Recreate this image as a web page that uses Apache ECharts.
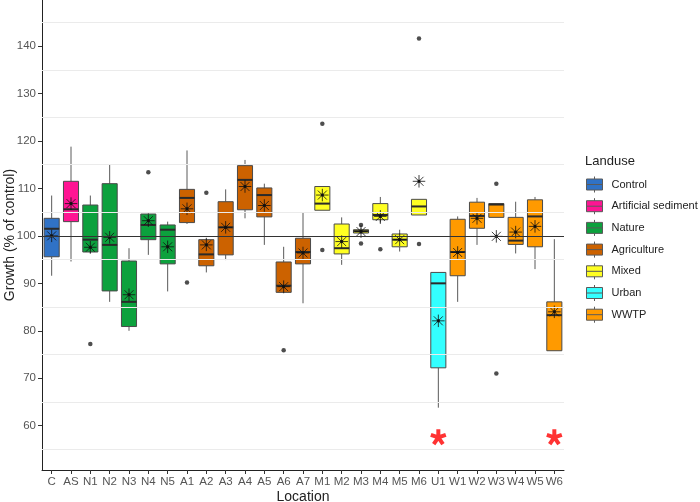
<!DOCTYPE html>
<html>
<head>
<meta charset="utf-8">
<script src="https://cdn.jsdelivr.net/npm/echarts@6/dist/echarts.min.js"></script>
<style>html,body{margin:0;padding:0;background:#fff}#c{width:700px;height:502px}</style>
</head>
<body>
<div id="c"></div>
<script>
const categories = ['C','AS','N1','N2','N3','N4','N5','A1','A2','A3','A4','A5','A6','A7','M1','M2','M3','M4','M5','M6','U1','W1','W2','W3','W4','W5','W6'];
const landuse = ['Control','Artificial sediment','Nature','Nature','Nature','Nature','Nature','Agriculture','Agriculture','Agriculture','Agriculture','Agriculture','Agriculture','Agriculture','Mixed','Mixed','Mixed','Mixed','Mixed','Mixed','Urban','WWTP','WWTP','WWTP','WWTP','WWTP','WWTP'];
const groups = ['Control','Artificial sediment','Nature','Agriculture','Mixed','Urban','WWTP'];
const whiskerLow  = [91.6, 94.6, 96.3, 86.1, 80.0, 96.0, 88.3, 102.5, 92.3, 94.9, 103.7, 98.1, 87.9, 85.8, 105.4, 93.9, 100.4, 102.5, 96.7, 104.4, 63.8, 86.1, 98.1, 103.9, 96.3, 93.0, 75.8];
const q1          = [95.6, 103.0, 96.6, 88.4, 80.9, 99.2, 94.1, 102.8, 93.7, 96.0, 105.5, 104.0, 88.1, 94.1, 105.4, 96.2, 100.6, 103.4, 97.7, 104.4, 72.2, 91.6, 101.6, 103.9, 98.2, 97.7, 75.8];
const median      = [101.5, 105.6, 99.2, 98.1, 86.1, 102.3, 101.3, 108.0, 96.1, 101.8, 111.8, 108.6, 89.5, 96.6, 106.8, 97.4, 101.0, 104.4, 99.2, 106.2, 90.0, 96.6, 104.2, 106.6, 99.0, 104.1, 83.3];
const q3          = [103.7, 111.5, 106.5, 111.0, 94.7, 104.6, 102.3, 109.8, 99.2, 107.2, 114.8, 110.1, 94.5, 99.5, 110.4, 102.5, 101.3, 106.8, 100.4, 107.7, 92.3, 103.5, 107.1, 106.8, 103.9, 107.6, 86.1];
const whiskerHigh = [108.5, 118.8, 108.5, 115.1, 97.4, 104.8, 103.0, 118.0, 99.6, 109.8, 116.0, 111.0, 97.7, 105.0, 110.4, 103.9, 101.6, 108.2, 101.3, 107.7, 92.3, 104.1, 108.0, 106.8, 107.2, 108.2, 99.3];
const means       = [100.0, 106.8, 97.6, 99.7, 87.6, 103.2, 97.7, 105.7, 98.1, 101.8, 110.4, 106.4, 89.3, 96.4, 108.6, 98.8, 100.9, 104.1, 99.2, 111.5, 82.1, 96.5, 103.7, 99.9, 100.8, 102.0, 84.0];
const outlierCats   = ['N1','N4','A1','A2','A6','M1','M1','M3','M3','M4','M6','M6','W3','W3'];
const outlierValues = [77.2, 113.4, 90.2, 109.1, 75.9, 123.6, 97.0, 102.3, 98.4, 97.2, 141.6, 98.3, 111.0, 71.0];
const sigCats = ['U1','W6'];
const sigValues = [57.7, 57.7];
const yTicks = [60,70,80,90,100,110,120,130,140];
const yMinorGrid = [55,65,75,85,95,105,115,125,135,145];
const refLine = 100;

const groupColors = {
  'Control':'#3072C6','Artificial sediment':'#FF1493','Nature':'#0CA13D','Agriculture':'#CC6200',
  'Mixed':'#FFFF22','Urban':'#33FFFF','WWTP':'#FF9A00'
};
const FONT = 'Liberation Sans, Arial, sans-serif';

function renderBox(params, api) {
  const x = api.value(0);
  const pMin = api.coord([x, api.value(1)]);
  const pQ1 = api.coord([x, api.value(2)]);
  const pMed = api.coord([x, api.value(3)]);
  const pQ3 = api.coord([x, api.value(4)]);
  const pMax = api.coord([x, api.value(5)]);
  const bw = api.size([1, 0])[0] * 0.78;
  const cx = pMed[0];
  const fill = groupColors[groups[params.seriesIndex - 1]];
  return {
    type: 'group',
    children: [
      {type:'line', shape:{x1:cx, y1:pMax[1], x2:cx, y2:pQ3[1]}, style:{stroke:'#5a5a5a', lineWidth:1}},
      {type:'line', shape:{x1:cx, y1:pQ1[1], x2:cx, y2:pMin[1]}, style:{stroke:'#5a5a5a', lineWidth:1}},
      {type:'rect', shape:{x:cx-bw/2, y:pQ3[1], width:bw, height:Math.max(pQ1[1]-pQ3[1], 0.5)}, style:{fill:fill, stroke:'#4a4a4a', lineWidth:1}},
      {type:'line', shape:{x1:cx-bw/2, y1:pMed[1], x2:cx+bw/2, y2:pMed[1]}, style:{stroke:'#2a2a2a', lineWidth:2}}
    ]
  };
}

const series = [];
// minor grid lines
series.push({
  type:'scatter', data:[], z:0, silent:true,
  markLine:{silent:true, symbol:'none', label:{show:false}, animation:false,
    lineStyle:{color:'#EBEBEB', width:1, type:'solid'},
    data: yMinorGrid.map(v => ({yAxis:v}))}
});
groups.forEach(g => {
  const data = [];
  categories.forEach((c, i) => {
    if (landuse[i] === g) data.push([i, whiskerLow[i], q1[i], median[i], q3[i], whiskerHigh[i]]);
  });
  series.push({
    name:g, type:'custom', renderItem:renderBox, z:2,
    itemStyle:{color:groupColors[g], borderColor:'#4a4a4a', borderWidth:1},
    encode:{x:0, y:[1,2,3,4,5]},
    data:data
  });
});
// outliers
series.push({
  type:'scatter', z:3, symbol:'circle', symbolSize:4.5,
  itemStyle:{color:'#222'},
  data: outlierCats.map((c, i) => [categories.indexOf(c), outlierValues[i]])
});
// means
series.push({
  type:'scatter', z:4,
  symbol:'path://M0,-1L0,1M-1,0L1,0M-0.72,-0.72L0.72,0.72M-0.72,0.72L0.72,-0.72M-0.16,-0.16L0.16,-0.16L0.16,0.16L-0.16,0.16Z',
  symbolSize:12.5,
  itemStyle:{color:'#111', borderColor:'#111', borderWidth:1},
  data: means.map((m, i) => [i, m])
});
// significance asterisks
series.push({
  type:'scatter', z:5,
  symbol:'path://M0,0L0,-1M0,0L0.951,-0.309M0,0L0.588,0.809M0,0L-0.588,0.809M0,0L-0.951,-0.309',
  symbolSize:[15,15],
  itemStyle:{color:'#FF0000', borderColor:'#FF0000', borderWidth:4},
  data: sigCats.map((c, i) => [categories.indexOf(c), sigValues[i]])
});
// reference line
series.push({
  type:'scatter', data:[], z:6, silent:true,
  markLine:{silent:true, symbol:'none', label:{show:false}, animation:false,
    lineStyle:{color:'#333', width:1, type:'solid'},
    data:[{yAxis:refLine}]}
});

const iconPath = 'path://M0,2.5L16,2.5L16,13.5L0,13.5ZM8,0L8,2.5M8,13.5L8,16M0,8L16,8';

const option = {
  animation:false,
  backgroundColor:'#fff',
  title:{text:'Landuse', left:585, top:155, padding:0,
    textStyle:{fontFamily:FONT, fontSize:13, fontWeight:'normal', color:'#222'}},
  legend:{
    orient:'vertical', left:586, top:176, padding:0,
    itemWidth:16, itemHeight:16, itemGap:4.7, selectedMode:false,
    textStyle:{fontFamily:FONT, fontSize:11, color:'#222', padding:[0,0,0,4]},
    data: groups.map(g => ({name:g, icon:iconPath,
      itemStyle:{color:groupColors[g], borderColor:'#5a5a5a', borderWidth:1}}))
  },
  grid:{left:42, right:136, top:0, bottom:32, containLabel:false, outerBoundsMode:'none'},
  xAxis:{
    type:'category', data:categories, boundaryGap:true,
    name:'Location', nameLocation:'middle', nameGap:20, nameMoveOverlap:false,
    nameTextStyle:{fontFamily:FONT, fontSize:14, color:'#222'},
    axisLine:{lineStyle:{color:'#222', width:1}},
    axisTick:{show:true, alignWithLabel:true, length:4, lineStyle:{color:'#333'}},
    axisLabel:{fontFamily:FONT, fontSize:11.5, color:'#555', margin:6, interval:0},
    splitLine:{show:false}
  },
  yAxis:{
    type:'value', min:50.67, max:149.7,
    name:'Growth (% of control)', nameLocation:'middle', nameGap:25, nameMoveOverlap:false,
    nameTextStyle:{fontFamily:FONT, fontSize:14, color:'#222'},
    axisLine:{show:true, lineStyle:{color:'#222', width:1}},
    axisTick:{show:true, length:4, lineStyle:{color:'#333'}, customValues:yTicks},
    axisLabel:{fontFamily:FONT, fontSize:11.5, color:'#555', margin:6, customValues:yTicks,
      formatter: v => (yTicks.indexOf(Math.round(v)) >= 0 && Math.abs(v - Math.round(v)) < 1e-6) ? String(Math.round(v)) : ''},
    splitLine:{show:false}
  },
  series:series
};
const chart = echarts.init(document.getElementById('c'), null, {renderer:'canvas'});
chart.setOption(option);
</script>
</body>
</html>
